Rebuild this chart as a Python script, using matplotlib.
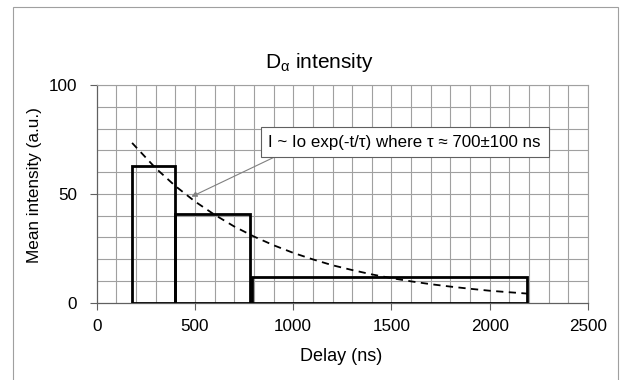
import matplotlib
matplotlib.use("Agg")
import matplotlib.pyplot as plt
from matplotlib.patches import Rectangle

plt.rcParams['font.family'] = ['Liberation Sans', 'DejaVu Sans']
plt.rcParams['mathtext.default'] = 'regular'

# gated intensity bins (start, width, mean intensity)
bin_start = [180, 400, 790]
bin_width = [220, 380, 1400]
bin_height = [62.8, 40.6, 12.0]

# exponential fit
fit_t = [180, 300, 400, 500, 600, 700, 800, 900, 1000, 1100, 1200, 1300,
         1400, 1500, 1600, 1700, 1800, 1900, 2000, 2100, 2190]
fit_i = [73.4, 61.8, 53.6, 46.5, 40.4, 35.0, 30.4, 26.4, 22.9, 19.9, 17.2, 15.0,
         13.0, 11.3, 9.8, 8.5, 7.4, 6.4, 5.5, 4.8, 4.2]

x_ticks = [0, 500, 1000, 1500, 2000, 2500]
y_ticks = [0, 50, 100]

fig = plt.figure(figsize=(6.22, 3.80), dpi=100)
ax = fig.add_axes([0.1555, 0.2034, 0.7898, 0.5729])

# grid every 100 ns / 10 a.u.
for gx in range(100, 2600, 100):
    ax.axvline(gx, color='#a0a0a0', lw=0.8, zorder=0)
for gy in range(10, 110, 10):
    ax.axhline(gy, color='#a0a0a0', lw=0.8, zorder=0)

ax.bar(bin_start, bin_height, width=bin_width, align='edge', fill=False,
       edgecolor='black', linewidth=2.0, zorder=3)
ax.plot(fit_t, fit_i, color='black', ls=(0, (4, 3)), lw=1.3, zorder=4)

ax.annotate('I ~ Io exp(-t/\u03c4) where \u03c4 \u2248 700\u00b1100 ns',
            xy=(482, 48.7), xytext=(1567, 73.8), ha='center', va='center',
            fontsize=12.2,
            bbox=dict(boxstyle='square,pad=0.45', fc='white', ec='#606060', lw=0.8),
            arrowprops=dict(arrowstyle='-|>', color='#808080', lw=0.8,
                            mutation_scale=8, shrinkA=0, shrinkB=0,
                            relpos=(0.08, 0.0)),
            zorder=5)

ax.set_xlim(0, 2500)
ax.set_ylim(0, 100)
ax.set_xticks(x_ticks)
ax.set_yticks(y_ticks)
ax.tick_params(labelsize=12.3, length=5, width=0.8, color='#606060')
ax.tick_params(axis='y', pad=9)
ax.tick_params(axis='x', pad=7)
for side in ['top', 'right']:
    ax.spines[side].set_color('#a0a0a0')
    ax.spines[side].set_linewidth(0.8)
for side in ['left', 'bottom']:
    ax.spines[side].set_color('#606060')
    ax.spines[side].set_linewidth(0.9)

ax.set_xlabel('Delay (ns)', fontsize=13)
ax.set_ylabel('Mean intensity (a.u.)', fontsize=12.3)
ax.xaxis.set_label_coords(0.4975, -0.208)
ax.yaxis.set_label_coords(-0.112, 0.54)
fig.text(0.513, 0.835, r'D$_\alpha$ intensity', ha='center', va='center', fontsize=15)

# chart border
fig.patches.append(Rectangle((13 / 622, -0.02), 605 / 622, 1.02 - 7 / 380,
                             transform=fig.transFigure, fill=False,
                             ec='#a0a0a0', lw=0.8))

fig.savefig('out.png', dpi=100)
